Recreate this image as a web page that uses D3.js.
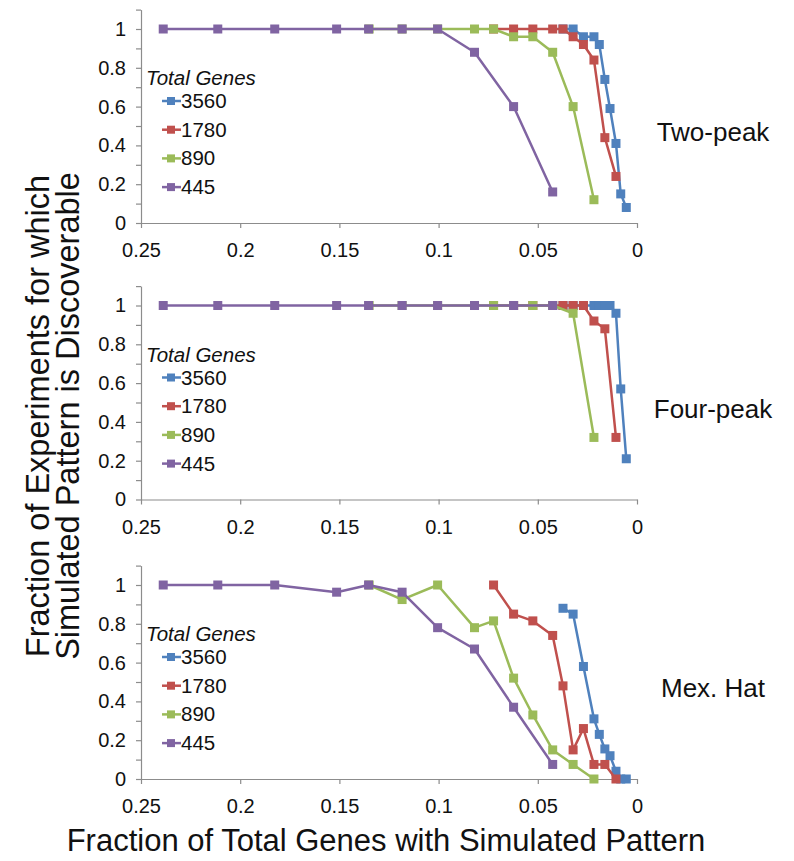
<!DOCTYPE html>
<html>
<head>
<meta charset="utf-8">
<script src="https://cdn.jsdelivr.net/npm/d3@7"></script>
<style>
  html, body { margin: 0; padding: 0; background: #fff; }
  svg { display: block; font-family: "Liberation Sans", Arial, sans-serif; }
</style>
</head>
<body>
<svg id="chart" width="794" height="861"></svg>
<script>
// Series: total number of genes in the simulation
const genes = ["3560", "1780", "890", "445"];
const seriesColors = ["#4F81BD", "#C0504D", "#9BBB59", "#8064A2"];

// Fraction of total genes carrying the simulated pattern, per series
const x3560 = [0.0373, 0.0322, 0.0270, 0.0217, 0.0190, 0.0162, 0.0136, 0.0106, 0.0082, 0.0054];
const x1780 = [0.0723, 0.0622, 0.0525, 0.0425, 0.0373, 0.0322, 0.0270, 0.0217, 0.0162, 0.0106];
const x890  = [0.1350, 0.1184, 0.1005, 0.0819, 0.0723, 0.0622, 0.0525, 0.0425, 0.0322, 0.0217];
const x445  = [0.2388, 0.2113, 0.1826, 0.1514, 0.1353, 0.1184, 0.1005, 0.0819, 0.0622, 0.0425];

// Two-peak pattern
const twoPeak3560 = [1, 1, 0.96, 0.96, 0.92, 0.74, 0.59, 0.41, 0.15, 0.08];
const twoPeak1780 = [1, 1, 1, 1, 1, 0.96, 0.92, 0.84, 0.44, 0.24];
const twoPeak890  = [1, 1, 1, 1, 1, 0.96, 0.96, 0.88, 0.60, 0.12];
const twoPeak445  = [1, 1, 1, 1, 1, 1, 1, 0.88, 0.60, 0.16];

// Four-peak pattern
const fourPeak3560 = [1, 1, 1, 1, 1, 1, 1, 0.96, 0.57, 0.21];
const fourPeak1780 = [1, 1, 1, 1, 1, 1, 1, 0.92, 0.88, 0.32];
const fourPeak890  = [1, 1, 1, 1, 1, 1, 1, 1, 0.96, 0.32];
const fourPeak445  = [1, 1, 1, 1, 1, 1, 1, 1, 1, 1];

// Mexican-hat pattern
const mexHat3560 = [0.88, 0.85, 0.58, 0.31, 0.23, 0.155, 0.12, 0.04, 0, 0];
const mexHat1780 = [1, 0.85, 0.815, 0.74, 0.48, 0.15, 0.26, 0.075, 0.075, 0];
const mexHat890  = [1, 0.925, 1, 0.78, 0.815, 0.52, 0.33, 0.15, 0.075, 0];
const mexHat445  = [1, 1, 1, 0.963, 1, 0.963, 0.78, 0.67, 0.37, 0.075];

const panelNames = ["Two-peak", "Four-peak", "Mex. Hat"];
const xTickValues = [0.25, 0.2, 0.15, 0.1, 0.05, 0];
const yTickValues = [0, 0.1, 0.2, 0.3, 0.4, 0.5, 0.6, 0.7, 0.8, 0.9, 1, 1.1];
const yLabelValues = [0, 0.2, 0.4, 0.6, 0.8, 1];
const legendTitle = "Total Genes";
const xTitle = "Fraction of Total Genes with Simulated Pattern";
const yTitle = ["Fraction of Experiments for which", "Simulated Pattern is Discoverable"];

const xsBySeries = [x3560, x1780, x890, x445];
const panelValues = [
  [twoPeak3560, twoPeak1780, twoPeak890, twoPeak445],
  [fourPeak3560, fourPeak1780, fourPeak890, fourPeak445],
  [mexHat3560, mexHat1780, mexHat890, mexHat445]
];

const svg = d3.select("#chart");
const axisColor = "#8C8C8C";

const x = d3.scaleLinear().domain([0.25, 0]).range([141, 637]);
const panelBase = [223, 499.5, 779];   // pixel row of y = 0 in each panel
const unitHeight = 194;

panelNames.forEach((name, p) => {
  const y = d3.scaleLinear().domain([0, 1.1])
    .range([panelBase[p], panelBase[p] - 1.1 * unitHeight]);
  const g = svg.append("g");

  // x axis
  const xAxis = g.append("g")
    .attr("transform", `translate(0,${panelBase[p]})`)
    .call(d3.axisBottom(x).tickValues(xTickValues).tickSizeInner(5).tickSizeOuter(0)
      .tickPadding(15).tickFormat(d3.format("")));
  // y axis
  const yAxis = g.append("g")
    .attr("transform", `translate(${x(0.25)},0)`)
    .call(d3.axisLeft(y).tickValues(yTickValues).tickSizeInner(5).tickSizeOuter(0)
      .tickPadding(10)
      .tickFormat(d => yLabelValues.some(v => Math.abs(v - d) < 1e-6) ? d3.format("")(+d.toFixed(1)) : ""));

  [xAxis, yAxis].forEach(a => {
    a.select(".domain").attr("stroke", axisColor).attr("stroke-width", 1.2);
    a.selectAll(".tick line").attr("stroke", axisColor).attr("stroke-width", 1.2);
    a.selectAll(".tick text").attr("fill", "#111").style("font-size", "20px")
      .style("font-family", "'Liberation Sans', Arial, sans-serif");
  });

  // series lines and square markers (3560 first, 445 drawn on top)
  const line = d3.line().x(d => x(d[0])).y(d => y(d[1]));
  genes.forEach((gName, s) => {
    const pts = xsBySeries[s].map((xv, i) => [xv, panelValues[p][s][i]]);
    const sg = g.append("g");
    sg.append("path").datum(pts).attr("d", line)
      .attr("fill", "none").attr("stroke", seriesColors[s]).attr("stroke-width", 2.5)
      .attr("stroke-linejoin", "round");
    sg.selectAll("rect").data(pts).join("rect")
      .attr("x", d => x(d[0]) - 4.5).attr("y", d => y(d[1]) - 4.5)
      .attr("width", 9).attr("height", 9)
      .attr("fill", seriesColors[s]);
  });

  // legend
  const top = y(1);
  const lg = g.append("g");
  lg.append("text").attr("x", 146).attr("y", top + 56)
    .style("font-size", "20.5px").style("font-style", "italic").attr("fill", "#111")
    .text(legendTitle);
  genes.forEach((gName, s) => {
    const cy = top + 72 + s * 28.7;
    lg.append("line").attr("x1", 162).attr("x2", 181).attr("y1", cy).attr("y2", cy)
      .attr("stroke", seriesColors[s]).attr("stroke-width", 2.5);
    lg.append("rect").attr("x", 167).attr("y", cy - 4).attr("width", 8).attr("height", 8)
      .attr("fill", seriesColors[s]);
    lg.append("text").attr("x", 181).attr("y", cy + 7)
      .style("font-size", "20.5px").attr("fill", "#111").text(gName);
  });

  // panel name
  g.append("text").attr("x", 713).attr("y", top + 112)
    .attr("text-anchor", "middle").style("font-size", "26px").attr("fill", "#111")
    .text(name);
});

// axis titles
svg.append("text").attr("x", 386).attr("y", 851).attr("text-anchor", "middle")
  .style("font-size", "31px").attr("fill", "#111").text(xTitle);

const yt = svg.append("text").attr("transform", "translate(0,416) rotate(-90)")
  .attr("text-anchor", "middle").style("font-size", "32.5px").attr("fill", "#111");
yt.append("tspan").attr("x", 0).attr("y", 49).text(yTitle[0]);
yt.append("tspan").attr("x", 0).attr("y", 79).text(yTitle[1]);
</script>
</body>
</html>
